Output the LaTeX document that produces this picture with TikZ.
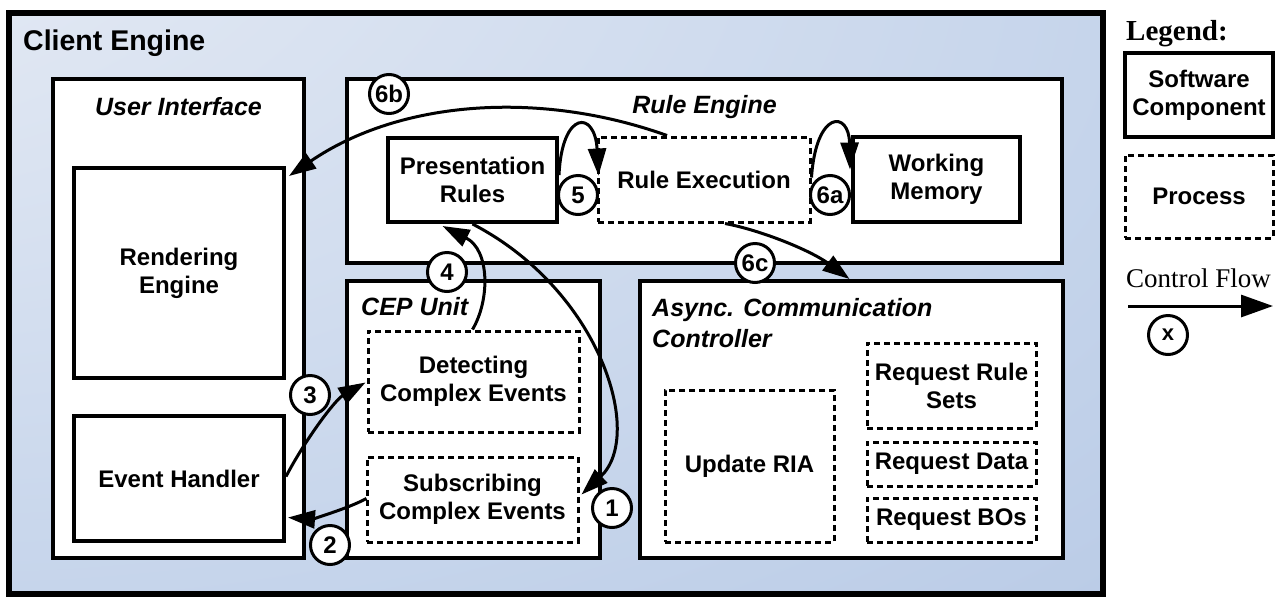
\documentclass[tikz,border=0pt]{standalone}
\usepackage{fontspec}
\setmainfont{Liberation Serif}
\newfontfamily\arialf{Liberation Sans}
\usetikzlibrary{arrows.meta}
\newcommand\bodyfnt{\arialf\bfseries\fontsize{24}{28}\selectfont}
\newcommand\titlefnt{\arialf\bfseries\itshape\fontsize{25}{31}\selectfont}
\pgfdeclareradialshading{ceshade}{\pgfpoint{-45bp}{45bp}}{rgb(0bp)=(0.94,0.95,0.98); rgb(22bp)=(0.87,0.90,0.95); rgb(55bp)=(0.77,0.83,0.92); rgb(90bp)=(0.67,0.75,0.88); rgb(140bp)=(0.66,0.74,0.87)}
\begin{document}
\begin{tikzpicture}[x=1pt,y=-1pt,
  outerbox/.style={draw, line width=6pt, shade, shading=ceshade, inner sep=0pt},
  box/.style={draw, line width=4pt, fill=white, inner sep=0pt, font=\bodyfnt, align=center},
  proc/.style={box, line width=3pt, dash pattern=on 6pt off 4pt},
  num/.style={circle, draw, line width=3pt, fill=white, minimum size=39pt, inner sep=0pt, font=\arialf\bfseries\fontsize{24}{24}\selectfont},
  flow/.style={line width=3pt, -{Triangle[length=27pt,width=18pt]}},
  ttl/.style={font=\titlefnt, anchor=base, inner sep=0pt}]
\useasboundingbox (0,0) rectangle (1285,598);
% outer
\node[outerbox, minimum width=1094pt, minimum height=581pt] (ce) at (556,303.5) {};
\node[anchor=base west, inner sep=0pt, font=\arialf\bfseries\fontsize{28.5}{28.5}\selectfont] (tce) at (23,50) {Client Engine};
% user interface
\node[box, minimum width=251pt, minimum height=479pt] (ui) at (178.5,318.5) {};
\node[ttl] (tui) at (178.5,115) {User Interface};
\node[box, minimum width=210pt, minimum height=210pt] (render) at (179,273) {Rendering\\Engine};
\node[box, minimum width=210pt, minimum height=125pt] (eh) at (179,478.5) {Event Handler};
% rule engine
\node[box, minimum width=715pt, minimum height=184pt] (re) at (704.5,171) {};
\node[ttl] (tre) at (704.5,113) {Rule Engine};
\node[box, minimum width=169pt, minimum height=84pt] (pres) at (472.5,180) {Presentation\\Rules};
\node[proc, minimum width=212pt, minimum height=85pt] (rexec) at (704,179.5) {Rule Execution};
\node[box, minimum width=167pt, minimum height=85pt] (wm) at (936.5,179.5) {Working\\Memory};
% CEP unit
\node[box, minimum width=253pt, minimum height=277pt] (cep) at (473.5,419.5) {};
\node[ttl, anchor=base west] (tcep) at (361,315) {CEP Unit};
\node[proc, minimum width=211pt, minimum height=101pt] (detect) at (473.5,381.5) {Detecting\\Complex Events};
\node[proc, minimum width=211pt, minimum height=85pt] (subscr) at (472.5,499.5) {Subscribing\\Complex Events};
% async
\node[box, minimum width=423pt, minimum height=277pt] (async) at (851.5,419.5) {};
\node[ttl, anchor=north west, align=left] (tacc) at (652,298) {Async. Communication\\Controller};
\node[proc, minimum width=169pt, minimum height=152pt] (upd) at (749.5,466) {Update RIA};
\node[proc, minimum width=169pt, minimum height=85pt] (reqrs) at (951.5,385.5) {Request Rule\\Sets};
\node[proc, minimum width=169pt, minimum height=44pt] (reqd) at (951.5,464) {Request Data};
\node[proc, minimum width=169pt, minimum height=44pt] (reqbo) at (951.5,520) {Request BOs};
% flows
\draw[flow] ([shift={(-37,0)}]rexec.north) .. controls (540,90) and (400,100) .. ([shift={(3,10)}]render.north east);
\draw[flow] ([shift={(0,-5)}]pres.east) .. controls (562,110) and (595,110) .. ([shift={(2,-4)}]rexec.west);
\draw[flow] ([shift={(0,-2)}]rexec.east) .. controls (816,110) and (849,110) .. ([shift={(-1,-10)}]wm.west);
\draw[flow] ([shift={(21,0)}]rexec.south) .. controls (760,230) and (810,250) .. ([shift={(-2,0)}]async.north);
\draw[flow] ([shift={(-1,0)}]detect.north) .. controls (490,300) and (490,250) .. ([shift={(-30,2)}]pres.south);
\draw[flow] (pres.south) .. controls (600,290) and (645,435) .. ([shift={(2,-5)}]subscr.east);
\draw[flow] ([shift={(0,-2)}]eh.east) .. controls (305,440) and (335,400) .. ([shift={(-1,1)}]detect.west);
\draw[flow] ([shift={(1,-1)}]subscr.west) .. controls (345,510) and (310,519) .. ([shift={(2,39)}]eh.east);
% step labels
\node[num] (n6b) at (389,94) {6b};
\node[num] (n5) at (578,195) {5};
\node[num] (n6a) at (830,195) {6a};
\node[num] (n6c) at (755,263) {6c};
\node[num] (n4) at (447,272) {4};
\node[num] (n3) at (310,395) {3};
\node[num] (n2) at (330,545) {2};
\node[num] (n1) at (612,508) {1};
% legend
\node[anchor=base west, inner sep=0pt, font=\bfseries\fontsize{29}{29}\selectfont] (tleg) at (1126,40) {Legend:};
\node[box, minimum width=148pt, minimum height=84pt] (lsc) at (1199,95) {Software\\Component};
\node[proc, minimum width=148pt, minimum height=83pt] (lpr) at (1199,196.5) {Process};
\node[anchor=base west, inner sep=0pt, font=\fontsize{27}{27}\selectfont] (tcf) at (1126,287) {Control Flow};
\coordinate (lfa) at (1128,306);
\coordinate (lfb) at (1273,306);
\draw[line width=3pt, -{Triangle[length=32pt,width=22pt]}] (lfa) -- (lfb);
\node[num, font=\arialf\bfseries\fontsize{22}{22}\selectfont] (lx) at (1168,335) {x};
\end{tikzpicture}
\end{document}
